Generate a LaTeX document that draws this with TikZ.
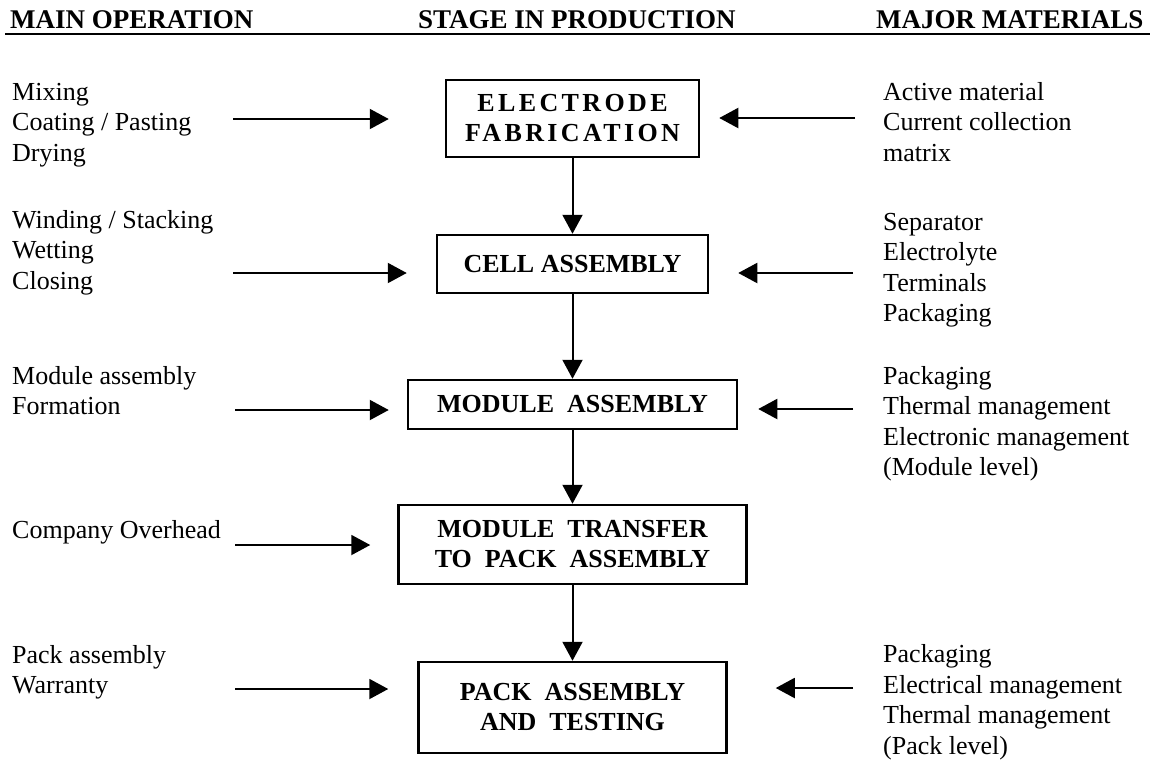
\documentclass[tikz,border=0pt]{standalone}
\usepackage{fontspec}
\setmainfont{Liberation Serif}
\usetikzlibrary{arrows.meta}
\tikzset{
  stage/.style={draw,line width=2.5pt,align=center,inner sep=0pt,
                font=\fontsize{26}{30}\selectfont\bfseries},
  lst/.style={anchor=base west,align=left,inner sep=0pt,
              font=\fontsize{26}{30.5}\selectfont},
  hd/.style={anchor=base west,inner sep=0pt,
             font=\fontsize{27}{30}\selectfont\bfseries},
  fl/.style={line width=2pt,-{Triangle[length=19pt,width=20pt]}},
}

\begin{document}
\begin{tikzpicture}[x=1pt, y=-1pt]
  \useasboundingbox (0,0) rectangle (1156,761);
  % headings
  \node[hd] (h1) at (10,28) {MAIN OPERATION};
  \node[hd] (h2) at (418,28) {STAGE IN PRODUCTION};
  \node[hd] (h3) at (876,28) {MAJOR MATERIALS};
  \draw[line width=2pt] (5,33.5) -- (1150,33.5);
  % stages
  \node[stage,minimum width=253pt,minimum height=77pt] (elec) at (572.5,118.5)
       {\addfontfeature{LetterSpace=13}ELECTRODE\\\addfontfeature{LetterSpace=13}FABRICATION};
  \node[stage,minimum width=271pt,minimum height=58pt] (cell) at (572.5,264) {CELL ASSEMBLY};
  \node[stage,minimum width=329pt,minimum height=49pt] (mod) at (572.5,404.5)
       {MODULE\enspace ASSEMBLY};
  \node[stage,minimum width=348pt,minimum height=79pt] (trans) at (572.5,544.5)
       {MODULE\enspace TRANSFER\\TO\enspace PACK\enspace ASSEMBLY};
  \node[stage,minimum width=308pt,minimum height=91pt] (pack) at (572.5,707.5)
       {PACK\enspace ASSEMBLY\\AND\enspace TESTING};
  \draw[fl] (elec) -- (cell);
  \draw[fl] (cell) -- (mod);
  \draw[fl] (mod) -- (trans);
  \draw[fl] (trans) -- (pack);
  % main operations (placed at the baseline of the last line)
  \node[lst] (op1) at (12,161) {Mixing\\Coating / Pasting\\Drying};
  \node[lst] (op2) at (12,289) {Winding / Stacking\\Wetting\\Closing};
  \node[lst] (op3) at (12,414.5) {Module assembly\\Formation};
  \node[lst] (op4) at (12,538) {Company Overhead};
  \node[lst] (op5) at (12,693.5) {Pack assembly\\Warranty};
  \coordinate (a1) at (233,119);
  \coordinate (a2) at (233,273);
  \coordinate (a3) at (235,410);
  \coordinate (a4) at (235,545);
  \coordinate (a5) at (235,689);
  \draw[fl,shorten >=56pt] (a1) -- (a1 -| elec.west);
  \draw[fl,shorten >=29pt] (a2) -- (a2 -| cell.west);
  \draw[fl,shorten >=18pt] (a3) -- (a3 -| mod.west);
  \draw[fl,shorten >=27pt] (a4) -- (a4 -| trans.west);
  \draw[fl,shorten >=29pt] (a5) -- (a5 -| pack.west);
  % major materials
  \node[lst] (mt1) at (883,161) {Active material\\Current collection\\matrix};
  \node[lst] (mt2) at (883,321.5) {Separator\\Electrolyte\\Terminals\\Packaging};
  \node[lst] (mt3) at (883,475.5) {Packaging\\Thermal management\\Electronic management\\(Module level)};
  \node[lst] (mt5) at (883,754) {Packaging\\Electrical management\\Thermal management\\(Pack level)};
  \coordinate (b1) at (855,118);
  \coordinate (b2) at (853,273);
  \coordinate (b3) at (853,409);
  \coordinate (b5) at (853,688);
  \draw[fl,shorten >=19pt] (b1) -- (b1 -| elec.east);
  \draw[fl,shorten >=29pt] (b2) -- (b2 -| cell.east);
  \draw[fl,shorten >=20pt] (b3) -- (b3 -| mod.east);
  \draw[fl,shorten >=48pt] (b5) -- (b5 -| pack.east);
\end{tikzpicture}
\end{document}
